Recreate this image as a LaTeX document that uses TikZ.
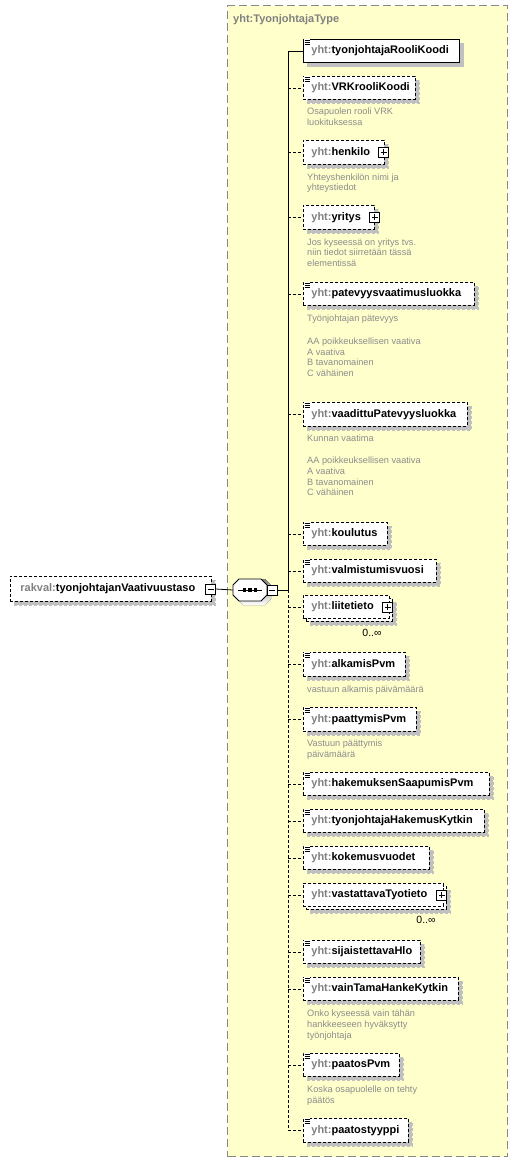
\documentclass[tikz,border=0pt]{standalone}
\usepackage{fontspec}
\setmainfont{Liberation Sans}
\usetikzlibrary{shadows}
\definecolor{typebg}{HTML}{FFFFCC}
\definecolor{typeborder}{HTML}{888888}
\definecolor{prefix}{HTML}{808080}
\definecolor{desc}{HTML}{8C8C8C}
\definecolor{shade}{HTML}{C0C0C0}
\tikzset{
  shadowed/.style={drop shadow={shadow xshift=4pt, shadow yshift=-4pt, fill=shade, draw=shade, opacity=1}},
  boxbase/.style={draw=black, fill=white, line width=0.8pt, anchor=north west, inner xsep=8pt, inner ysep=0pt, align=left, font=\fontsize{11}{13}\selectfont\bfseries},
  reqbox/.style={boxbase, shadowed},
  optbox/.style={boxbase, shadowed, dash pattern=on 3pt off 2pt},
  optflat/.style={boxbase, dash pattern=on 3pt off 2pt},
  desctext/.style={anchor=north west, inner sep=0pt, align=left, text=desc, font=\fontsize{9.2}{10.6}\selectfont},
  multtext/.style={inner sep=0pt, font=\fontsize{10.5}{12}\selectfont},
  conn/.style={draw=black, line width=0.8pt},
  optconn/.style={conn, dash pattern=on 3pt off 2pt},
  plusbox/.style={draw=black, fill=white, line width=0.7pt, minimum size=10pt, inner sep=0pt,
    path picture={\draw[line width=0.7pt] ([xshift=2pt]path picture bounding box.west) -- ([xshift=-2pt]path picture bounding box.east);
                  \draw[line width=0.7pt] ([yshift=-2pt]path picture bounding box.north) -- ([yshift=2pt]path picture bounding box.south);}},
  minusbox/.style={draw=black, fill=white, line width=0.7pt, minimum size=10pt, inner sep=0pt,
    path picture={\draw[line width=0.7pt] ([xshift=2pt]path picture bounding box.west) -- ([xshift=-2pt]path picture bounding box.east);}},
}
\newcommand\xelem[6]{%
  \pgfmathsetmacro\xw{#4-303}%
  \pgfmathsetmacro\xh{#3-#2}%
  \pgfmathsetmacro\xtw{#4-319}%
  \node[#5, minimum width=\xw pt, minimum height=\xh pt, text width=\xtw pt] (#1) at (303,#2) {\textcolor{prefix}{yht:}#6};}
\newcommand\xicon[1]{%
  \fill[white] ([shift={(1,-0.5)}]#1.north west) rectangle ([shift={(7,6)}]#1.north west);
  \draw[line width=0.7pt] ([shift={(1.5,1.2)}]#1.north west) -- ++(5,0)
        ([shift={(1.5,3.2)}]#1.north west) -- ++(5,0)
        ([shift={(1.5,5.2)}]#1.north west) -- ++(5,0);}
\begin{document}
\begin{tikzpicture}[x=1pt,y=-1pt]
\useasboundingbox (0,0) rectangle (517,1163);
% type box
\node[draw=typeborder, fill=typebg, dash pattern=on 8pt off 4pt, line width=1.3pt,
      minimum width=280pt, minimum height=1151pt, anchor=north west, inner sep=0pt] (typebox) at (227,5) {};
\node[anchor=west, inner sep=0pt, text=prefix, font=\fontsize{11}{13}\selectfont\bfseries] (title) at (233,19.5) {yht:TyonjohtajaType};

% root element
\node[optbox, inner xsep=10pt, minimum width=201pt, minimum height=25pt, text width=181pt] (root) at (10,576) {\textcolor{prefix}{rakval:}tyonjohtajanVaativuustaso};
\node[minusbox] (rootm) at (210.5,589) {};

% sequence compositor
\node[minimum width=34pt, minimum height=22pt, inner sep=0pt] (seq) at (250,590) {};
\fill[shade] ([shift={(-13,-5)}]seq.center) -- ([shift={(-7,-11)}]seq.center) -- ([shift={(15,-11)}]seq.center) -- ([shift={(21,-5)}]seq.center)
   -- ([shift={(21,9)}]seq.center) -- ([shift={(15,15)}]seq.center) -- ([shift={(-7,15)}]seq.center) -- ([shift={(-13,9)}]seq.center) -- cycle;
\draw[fill=white, line width=0.8pt] ([shift={(-17,-5)}]seq.center) -- ([shift={(-11,-11)}]seq.center) -- ([shift={(11,-11)}]seq.center) -- ([shift={(17,-5)}]seq.center)
   -- ([shift={(17,5)}]seq.center) -- ([shift={(11,11)}]seq.center) -- ([shift={(-11,11)}]seq.center) -- ([shift={(-17,5)}]seq.center) -- cycle;
\draw[line width=0.8pt] ([xshift=-12pt]seq.center) -- ([xshift=12pt]seq.center);
\fill ([shift={(-7,-1.7)}]seq.center) rectangle ([shift={(-3.6,1.7)}]seq.center);
\fill ([shift={(-1.7,-1.7)}]seq.center) rectangle ([shift={(1.7,1.7)}]seq.center);
\fill ([shift={(3.6,-1.7)}]seq.center) rectangle ([shift={(7,1.7)}]seq.center);
\node[minusbox] (seqm) at (272,590) {};
\draw[conn] (rootm.east) -- (seq.west);

% elements
\xelem{n1}{39}{62}{459}{reqbox}{tyonjohtajaRooliKoodi}
\xelem{n2}{76}{99}{415}{optbox}{VRKrooliKoodi}
\xelem{n3}{140}{164}{384}{optbox}{henkilo}
\xelem{n4}{205}{229}{374}{optbox}{yritys}
\xelem{n5}{282}{305}{474}{optbox}{patevyysvaatimusluokka}
\xelem{n6}{402}{426}{467}{optbox}{vaadittuPatevyysluokka}
\xelem{n7}{522}{545}{387}{optbox}{koulutus}
\xelem{n8}{559}{582}{436}{optbox}{valmistumisvuosi}
\node[optbox, minimum width=86pt, minimum height=23pt] (n9b) at (306,598) {};
\xelem{n9}{595}{618}{389}{optflat}{liitetieto}
\xelem{n10}{652}{676}{405}{optbox}{alkamisPvm}
\xelem{n11}{707}{731}{416}{optbox}{paattymisPvm}
\xelem{n12}{772}{795}{489}{optbox}{hakemuksenSaapumisPvm}
\xelem{n13}{809}{832}{484}{optbox}{tyonjohtajaHakemusKytkin}
\xelem{n14}{846}{869}{429}{optbox}{kokemusvuodet}
\node[optbox, minimum width=140pt, minimum height=23pt] (n15b) at (306,886) {};
\xelem{n15}{883}{906}{443}{optflat}{vastattavaTyotieto}
\xelem{n16}{940}{963}{420}{optbox}{sijaistettavaHlo}
\xelem{n17}{977}{1000}{458}{optbox}{vainTamaHankeKytkin}
\xelem{n18}{1053}{1076}{399}{optbox}{paatosPvm}
\xelem{n19}{1118}{1142}{408}{optbox}{paatostyyppi}

% icons
\foreach \n in {n1,n2,n5,n6,n7,n8,n10,n11,n12,n13,n14,n16,n17,n18,n19} {\xicon{\n}}
\node[plusbox] (n3p) at ([xshift=-1pt]n3.east) {};
\node[plusbox] (n4p) at (n4.east) {};
\node[plusbox] (n9p) at ([xshift=-5pt]n9b.east |- n9.east) {};
\node[plusbox] (n15p) at ([xshift=-5pt]n15b.east |- n15.east) {};
\node[multtext] (n9m) at (372,633) {0..∞};
\node[multtext] (n15m) at (426,920) {0..∞};

% connectors
\coordinate (vmid) at (288,590);
\coordinate (vtop) at (vmid |- n1.west);
\coordinate (vbot) at (vmid |- n19.west);
\draw[conn] (seqm.east) -- (vmid) -- (vtop) -- (n1.west);
\draw[optconn] (vmid) -- (vbot);
\foreach \n in {n2,n3,n4,n5,n6,n7,n8,n9,n10,n11,n12,n13,n14,n15,n16,n17,n18,n19} {\draw[optconn] (vmid |- \n.west) -- (\n.west);}

% descriptions
\node[desctext] (d2) at (307,108) {Osapuolen rooli VRK\\luokituksessa};
\node[desctext] (d3) at (307,173.5) {Yhteyshenkilön nimi ja\\yhteystiedot};
\node[desctext] (d4) at (307,238.5) {Jos kyseessä on yritys tvs.\\niin tiedot siirretään tässä\\elementissä};
\node[desctext] (d5) at (307,315) {Työnjohtajan pätevyys\\[12pt]AA poikkeuksellisen vaativa\\A vaativa\\B tavanomainen\\C vähäinen};
\node[desctext] (d6) at (307,434.5) {Kunnan vaatima\\[12pt]AA poikkeuksellisen vaativa\\A vaativa\\B tavanomainen\\C vähäinen};
\node[desctext] (d10) at (307,686) {vastuun alkamis päivämäärä};
\node[desctext] (d11) at (307,740) {Vastuun päättymis\\päivämäärä};
\node[desctext] (d17) at (307,1010) {Onko kyseessä vain tähän\\hankkeeseen hyväksytty\\työnjohtaja};
\node[desctext] (d18) at (307,1086) {Koska osapuolelle on tehty\\päätös};
\end{tikzpicture}
\end{document}
